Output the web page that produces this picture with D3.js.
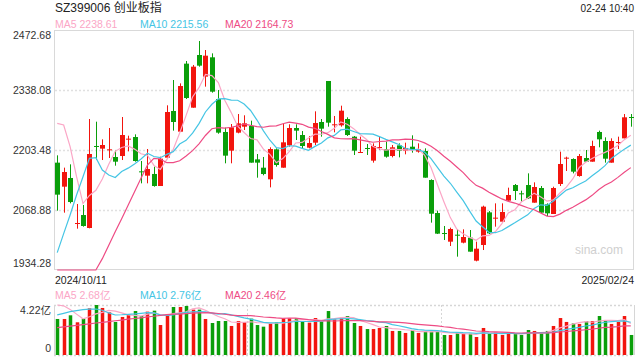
<!DOCTYPE html>
<html><head><meta charset="utf-8">
<script src="https://cdn.jsdelivr.net/npm/d3@7"></script>
<style>body{margin:0;background:#fff} svg{display:block} text{font-family:"Liberation Sans",Arial,"Noto Sans CJK SC",sans-serif}</style>
</head><body><svg id="c" width="640" height="360"></svg>
<script>
// ---------- data ----------
const dates = [
"2024/10/11","2024/10/14","2024/10/15","2024/10/16","2024/10/17","2024/10/18","2024/10/21","2024/10/22","2024/10/23","2024/10/24",
"2024/10/25","2024/10/28","2024/10/29","2024/10/30","2024/10/31","2024/11/01","2024/11/04","2024/11/05","2024/11/06","2024/11/07",
"2024/11/08","2024/11/11","2024/11/12","2024/11/13","2024/11/14","2024/11/15","2024/11/18","2024/11/19","2024/11/20","2024/11/21",
"2024/11/22","2024/11/25","2024/11/26","2024/11/27","2024/11/28","2024/11/29","2024/12/02","2024/12/03","2024/12/04","2024/12/05",
"2024/12/06","2024/12/09","2024/12/10","2024/12/11","2024/12/12","2024/12/13","2024/12/16","2024/12/17","2024/12/18","2024/12/19",
"2024/12/20","2024/12/23","2024/12/24","2024/12/25","2024/12/26","2024/12/27","2024/12/30","2024/12/31","2025/01/02","2025/01/03",
"2025/01/06","2025/01/07","2025/01/08","2025/01/09","2025/01/10","2025/01/13","2025/01/14","2025/01/15","2025/01/16","2025/01/17",
"2025/01/20","2025/01/21","2025/01/22","2025/01/23","2025/01/24","2025/01/27","2025/02/05","2025/02/06","2025/02/07","2025/02/10",
"2025/02/11","2025/02/12","2025/02/13","2025/02/14","2025/02/17","2025/02/18","2025/02/19","2025/02/20","2025/02/21","2025/02/24"];
const open = [2175.1,2121.2,2140.7,2037.5,2057.6,2028.5,2212.5,2206.5,2203.5,2187.8,
2190.0,2227.4,2232.6,2155.6,2145.9,2149.7,2122.7,2186.3,2291.0,2244.6,
2397.2,2298.4,2416.6,2368.0,2411.4,2317.9,2243.9,2202.0,2242.4,2255.8,
2257.3,2182.5,2163.8,2137.7,2205.0,2163.8,2213.9,2252.8,2237.1,2208.7,
2219.9,2266.3,2358.3,2259.6,2258.8,2273.0,2233.4,2197.5,2208.0,2179.6,
2208.7,2205.7,2190.0,2213.9,2202.0,2210.9,2199.8,2201.2,2136.2,2062.1,
2017.3,1997.8,2013.5,1995.6,2006.8,1955.2,1990.4,2063.6,2050.2,2042.7,
2089.8,2124.9,2106.3,2124.9,2085.3,2118.2,2081.6,2059.9,2127.2,2184.8,
2183.3,2145.1,2185.5,2177.3,2243.9,2223.7,2175.1,2219.9,2229.6,2277.5];
const high = [2191.5,2163.9,2171.3,2082.3,2080.1,2273.0,2267.0,2227.4,2252.8,2202.0,
2277.5,2235.6,2238.6,2178.8,2205.7,2166.1,2188.5,2303.7,2360.5,2353.0,
2403.1,2394.2,2448.0,2427.8,2420.3,2338.1,2253.6,2261.8,2284.2,2281.3,
2269.3,2194.5,2187.8,2209.5,2207.2,2263.3,2261.1,2261.1,2246.1,2234.9,
2290.2,2273.0,2358.3,2279.8,2302.9,2276.8,2234.9,2233.4,2216.9,2218.4,
2233.4,2222.2,2214.7,2218.4,2219.9,2236.4,2218.4,2207.2,2137.7,2067.4,
2033.0,2029.3,2026.3,2025.5,2024.0,1997.8,2078.6,2066.6,2083.8,2083.8,
2119.0,2127.2,2112.2,2151.1,2130.9,2122.7,2083.8,2121.2,2199.7,2188.5,
2184.8,2194.5,2203.5,2224.4,2246.9,2231.9,2229.6,2233.4,2284.2,2284.2];
const low = [2067.4,2062.9,2083.8,2027.0,2031.5,2027.7,2181.0,2181.0,2185.5,2168.3,
2181.0,2200.5,2177.3,2128.7,2128.7,2121.2,2122.7,2186.3,2246.9,2244.6,
2317.9,2298.4,2390.4,2345.6,2332.1,2240.0,2173.6,2173.6,2240.9,2248.3,
2175.1,2141.4,2146.7,2119.7,2166.1,2163.8,2210.9,2225.9,2205.7,2207.2,
2214.7,2233.4,2255.8,2243.1,2255.8,2234.9,2192.3,2197.5,2192.3,2175.1,
2203.5,2186.3,2187.0,2187.0,2193.8,2197.5,2197.5,2141.4,2040.5,2015.0,
2001.6,1988.1,1964.2,1994.1,1975.4,1953.7,1979.1,2015.0,2031.5,2040.5,
2089.8,2091.3,2087.6,2093.5,2085.3,2061.4,2055.4,2059.9,2122.7,2156.4,
2151.1,2143.6,2177.3,2177.3,2209.5,2175.1,2175.1,2205.7,2229.6,2255.8];
const close = [2103.3,2154.1,2086.8,2039.7,2033.0,2194.5,2210.9,2214.7,2205.0,2177.3,
2237.1,2228.9,2178.8,2153.4,2160.9,2122.7,2184.0,2288.7,2266.3,2347.0,
2320.1,2390.4,2392.7,2415.1,2334.3,2242.4,2190.8,2254.3,2263.3,2263.3,
2175.1,2175.1,2149.6,2205.7,2169.8,2220.7,2252.8,2246.9,2212.5,2219.2,
2264.0,2251.3,2264.8,2261.1,2291.7,2237.1,2202.0,2199.0,2205.7,2212.5,
2210.2,2188.5,2209.5,2202.0,2208.0,2205.0,2205.0,2141.4,2060.6,2015.8,
2015.0,2026.3,2012.0,2008.3,1975.4,1982.1,2076.4,2016.5,2051.7,2064.4,
2102.5,2111.5,2104.0,2095.0,2120.5,2062.9,2061.4,2118.2,2172.1,2186.3,
2154.9,2190.0,2177.3,2212.5,2227.4,2184.0,2223.7,2221.4,2276.8,2276.0];
// volume, 亿
const volume = [3.04,3.04,3.35,2.76,3.07,3.94,4.22,3.97,3.60,2.79,
3.21,3.40,3.71,3.29,3.66,3.74,2.53,3.46,4.05,4.05,
4.14,3.83,3.83,3.04,2.70,2.87,2.87,2.45,2.87,2.76,
3.07,2.53,2.39,2.64,2.76,3.09,3.09,3.09,2.87,2.73,
3.12,2.81,3.71,3.01,3.09,3.29,2.70,2.45,2.19,2.19,
2.28,2.45,2.03,2.03,1.86,2.08,1.86,2.03,1.97,1.97,
1.69,1.69,1.88,1.80,1.80,1.52,2.28,1.80,1.91,1.69,
1.80,1.80,1.69,2.11,2.03,1.80,2.03,2.45,3.12,2.79,
2.67,2.62,2.87,2.87,3.29,2.93,2.62,2.79,3.29,1.69];
// moving-average values at the start of the window (they depend on earlier days)
const ma5Head  = [2263.3,2259.6,2210.9,2143.6];
const ma10Head = [1973.2,2015.8,2057.6,2102.5,2143.6,2184.8,2186.3,2158.6,2147.4];
const ma20Head = [1748.8,1778.7,1808.6,1838.6,1868.5,1898.4,1929.8,1959.7,1989.6,2020.3,
2049.4,2079.3,2110.0,2139.9,2169.8,2184.8,2183.3,2175.1,2175.1];
const vma5Head  = [4.22,4.15,3.85,3.45];
const vma10Head = [3.38,3.52,3.66,3.74,3.83,3.88,3.88,3.78,3.55];
const vma20Head = [2.31,2.37,2.44,2.50,2.57,2.63,2.70,2.76,2.82,2.89,2.95,3.02,3.08,3.14,3.21,3.27,3.34,3.40,3.45];
const priceTicks = [2472.68,2338.08,2203.48,2068.88,1934.28];
const volTicks = [4.22,0];
const title = "SZ399006 创业板指";
const stamp = "02-24 10:40";
const priceLegend = ["MA5 2238.61","MA10 2215.56","MA20 2164.73"];
const volLegend = ["MA5 2.68亿","MA10 2.76亿","MA20 2.46亿"];

// ---------- drawing ----------
const RED="#f2150e", GREEN="#0a9e0a";
const MA_COL=["#fba6c6","#45c5e4","#ee4b84"];
const svg=d3.select("#c");
const L=54,R=634,pT=30,pB=270,vT=305,vB=355;
const x=d3.scaleBand().domain(dates).range([L,R]).paddingInner(0.22).paddingOuter(0.11);
const cx=d=>x(d)+x.bandwidth()/2;
const y=d3.scaleLinear().domain([priceTicks[4],priceTicks[0]]).range([pB,pT]);
const yc=y.copy().clamp(true);
const yv=d3.scaleLinear().domain([0,volTicks[0]]).range([vB,vT]);
const yvc=yv.copy().clamp(true);

function ma(arr,n,head){return arr.map((v,i)=> i<head.length?head[i]:d3.mean(arr.slice(i-n+1,i+1)));}

// price frame & grid
svg.append("rect").attr("x",L+0.5).attr("y",pT+0.5).attr("width",R-L-1).attr("height",pB-pT-1)
  .attr("fill","none").attr("stroke","#d9d9d9");
svg.selectAll(".g").data(priceTicks.slice(1,4)).join("line")
  .attr("x1",L+1).attr("x2",R-1).attr("y1",d=>Math.round(y(d))+0.5).attr("y2",d=>Math.round(y(d))+0.5)
  .attr("stroke","#e0e0e0").attr("stroke-width",1.3).attr("stroke-dasharray","2,2");

// price labels
svg.selectAll(".pl").data(priceTicks).join("text")
  .attr("x",L-3).attr("y",(d,i)=> i===0?y(d)+5: i===4?y(d)-7: y(d))
  .attr("dy","0.35em").attr("text-anchor","end").attr("font-size",10.5).attr("fill","#333")
  .text(d=>d.toFixed(2));

// watermark
svg.append("text").attr("x",623).attr("y",254).attr("text-anchor","end").attr("font-size",12)
  .attr("fill","#cfcfcf").text("sina.com");

// candles
const idx=d3.range(dates.length);
const cg=svg.append("g");
cg.selectAll("line").data(idx).join("line")
  .attr("x1",i=>Math.round(cx(dates[i]))+0.5).attr("x2",i=>Math.round(cx(dates[i]))+0.5)
  .attr("y1",i=>y(high[i])).attr("y2",i=>y(low[i]))
  .attr("stroke",i=>close[i]>=open[i]?RED:GREEN).attr("stroke-width",1);
cg.selectAll("rect").data(idx).join("rect")
  .attr("x",i=>Math.round(cx(dates[i]))+0.5-2.5).attr("width",5)
  .attr("y",i=>y(Math.max(open[i],close[i])))
  .attr("height",i=>Math.max(1,Math.abs(y(open[i])-y(close[i]))))
  .attr("fill",i=>close[i]>=open[i]?RED:GREEN);

// price MAs
const pm=[ma(close,5,ma5Head),ma(close,10,ma10Head),ma(close,20,ma20Head)];
pm.forEach((s,k)=>{
  svg.append("path").datum(s)
    .attr("d",d3.line().x((d,i)=>cx(dates[i])).y(d=>yc(d)))
    .attr("fill","none").attr("stroke",MA_COL[k]).attr("stroke-width",1.2);
});

// title & legends
svg.append("text").attr("x",55).attr("y",8).attr("dy","0.35em").attr("font-size",12).attr("fill","#222").text(title);
svg.append("text").attr("x",634).attr("y",8).attr("dy","0.35em").attr("text-anchor","end").attr("font-size",10).attr("fill","#222").text(stamp);
const lx=[55,140,225];
priceLegend.forEach((t,k)=>svg.append("text").attr("x",lx[k]).attr("y",24).attr("dy","0.35em")
  .attr("font-size",10.5).attr("fill",MA_COL[k]).text(t));
volLegend.forEach((t,k)=>svg.append("text").attr("x",lx[k]).attr("y",295).attr("dy","0.35em")
  .attr("font-size",10.5).attr("fill",MA_COL[k]).text(t));

// dates
svg.append("text").attr("x",55).attr("y",280.5).attr("dy","0.35em").attr("font-size",10.5).attr("fill","#222").text(dates[0]);
svg.append("text").attr("x",634).attr("y",280.5).attr("dy","0.35em").attr("text-anchor","end").attr("font-size",10.5).attr("fill","#222").text(dates[dates.length-1]);

// volume frame
const vf=svg.append("g").attr("stroke","#d6d6d6");
[vT,vB].forEach(v=>vf.append("line").attr("x1",L).attr("x2",R).attr("y1",v+0.5).attr("y2",v+0.5)
  .attr("stroke-width",1.3).attr("stroke-dasharray","2,2"));
[L,R].forEach(v=>vf.append("line").attr("x1",v+0.5).attr("x2",v+0.5).attr("y1",vT).attr("y2",vB));
[1,2].forEach(k=>vf.append("line").attr("x1",Math.round(L+(R-L)*k/3)+0.5).attr("x2",Math.round(L+(R-L)*k/3)+0.5)
  .attr("y1",vT).attr("y2",vB).attr("stroke-dasharray","2,2"));
svg.append("text").attr("x",L-3).attr("y",vT+5).attr("dy","0.35em").attr("text-anchor","end").attr("font-size",10.5).attr("fill","#333").text(volTicks[0]+"亿");
svg.append("text").attr("x",L-3).attr("y",vB-7).attr("dy","0.35em").attr("text-anchor","end").attr("font-size",10.5).attr("fill","#333").text(volTicks[1]);

// volume bars
svg.append("g").selectAll("rect").data(idx).join("rect")
  .attr("x",i=>Math.round(cx(dates[i]))+0.5-1.75).attr("width",3.5)
  .attr("y",i=>yv(volume[i])).attr("height",i=>vB-yv(volume[i]))
  .attr("fill",i=>close[i]>=open[i]?RED:GREEN);

// volume MAs
const vm=[ma(volume,5,vma5Head),ma(volume,10,vma10Head),ma(volume,20,vma20Head)];
vm.forEach((s,k)=>{
  svg.append("path").datum(s)
    .attr("d",d3.line().x((d,i)=>cx(dates[i])).y(d=>yvc(d)))
    .attr("fill","none").attr("stroke",MA_COL[k]).attr("stroke-width",1.2);
});
</script></body></html>
